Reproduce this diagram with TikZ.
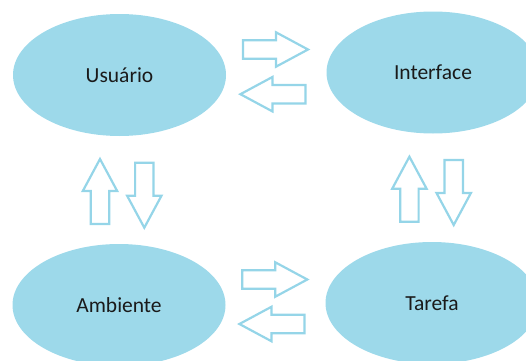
\documentclass[tikz,border=0pt]{standalone}
\usepackage{fontspec}
\setmainfont{Carlito}
\usetikzlibrary{shapes.geometric}
\definecolor{fillblue}{HTML}{9DD9EA}
\definecolor{lineblue}{HTML}{95D5E8}
\definecolor{txt}{HTML}{1A1A1A}
\tikzset{
  oval/.style={ellipse, fill=fillblue, draw=none, minimum width=213pt, minimum height=122pt, inner sep=0pt, font=\fontsize{21.5}{24}\selectfont, text=txt},
  blockarrow/.pic={\draw[lineblue, line width=2.2pt, fill=white, line join=miter]
     (0,-9.2) -- (33,-9.2) -- (33,-17.2) -- (65,0) -- (33,17.2) -- (33,9.2) -- (0,9.2) -- cycle;}
}
\begin{document}
\begin{tikzpicture}[x=1pt,y=1pt]
\useasboundingbox (0,0) rectangle (526,360);
\clip (0,0) rectangle (526,360);
\node[oval] (usuario) at (119.5,285) {Usuário};
\node[oval] (interface) at (433,287.5) {Interface};
\node[oval] (ambiente) at (119,55) {Ambiente};
\node[oval] (tarefa) at (432,57) {Tarefa};
\pic at (243,310.5) {blockarrow};
\pic[rotate=180] at (305.4,265.8) {blockarrow};
\pic at (242.3,80.5) {blockarrow};
\pic[rotate=180] at (304.4,36) {blockarrow};
\pic[rotate=90] at (100,136) {blockarrow};
\pic[rotate=-90] at (144.3,197.3) {blockarrow};
\pic[rotate=90] at (409.4,138.3) {blockarrow};
\pic[rotate=-90] at (453.7,200) {blockarrow};
\end{tikzpicture}
\end{document}
